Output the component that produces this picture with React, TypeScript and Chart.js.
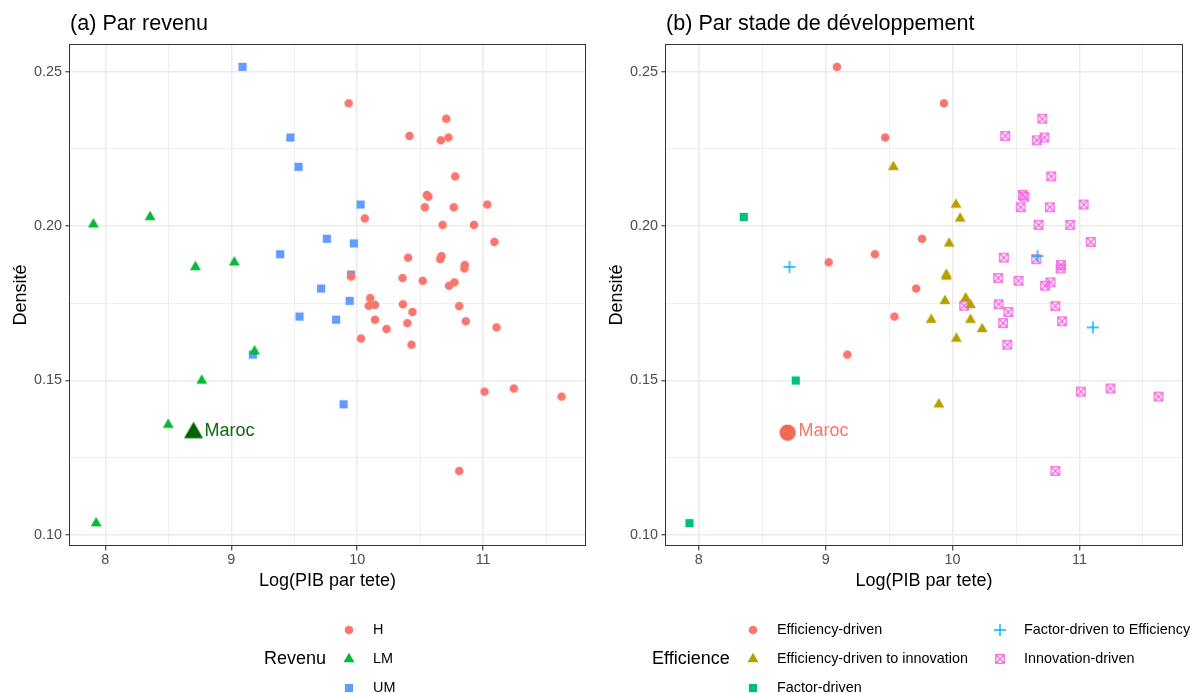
import React, { useEffect, useRef } from "react";
import { Chart, registerables } from "chart.js";

Chart.register(...registerables);

// ---------------- DATA ----------------
// Log(PIB par tete) of each country
const pibLog = [
  // UM
  9.089, 9.469, 9.534, 10.027, 9.759, 9.973, 9.388, 9.951, 9.713, 9.94, 9.542, 9.832, 9.171, 9.892,
  // LM
  7.905, 8.355, 8.715, 9.024, 9.184, 8.765, 8.499, 7.927,
  // H
  9.932, 10.707, 10.415, 10.664, 10.724, 10.778, 10.553, 10.566, 10.537, 10.767, 11.033, 10.06, 10.678,
  10.927, 11.089, 10.404, 10.669, 10.659, 10.854, 10.851, 9.951, 10.36, 10.52, 10.772, 10.729, 10.103,
  10.363, 10.092, 10.141, 10.81, 10.439, 10.141, 10.398, 10.862, 10.233, 11.106, 10.03, 10.431, 11.011,
  11.244, 11.623, 10.81,
];

// Densité of each country
const densite = [
  // UM
  0.2516, 0.2287, 0.2192, 0.207, 0.1959, 0.1944, 0.1909, 0.1843, 0.1798, 0.1758, 0.1707, 0.1697, 0.1584, 0.1423,
  // LM
  0.2006, 0.203, 0.1868, 0.1883, 0.1595, 0.15, 0.1357, 0.1038,
  // H
  0.2398, 0.2348, 0.2292, 0.2278, 0.2287, 0.2161, 0.2101, 0.2095, 0.2061, 0.2061, 0.207, 0.2025, 0.2004,
  0.2004, 0.1949, 0.1898, 0.1903, 0.1893, 0.1874, 0.1863, 0.1837, 0.1832, 0.1823, 0.1818, 0.1807, 0.1767,
  0.1747, 0.1742, 0.1745, 0.1741, 0.1722, 0.1697, 0.1686, 0.1692, 0.1667, 0.1672, 0.1636, 0.1616, 0.1464,
  0.1474, 0.1448, 0.1207,
];

// Revenu group of each country
const revenu = [
  "UM", "UM", "UM", "UM", "UM", "UM", "UM", "UM", "UM", "UM", "UM", "UM", "UM", "UM",
  "LM", "LM", "LM", "LM", "LM", "LM", "LM", "LM",
  "H", "H", "H", "H", "H", "H", "H", "H", "H", "H", "H", "H", "H", "H", "H", "H", "H", "H", "H", "H", "H",
  "H", "H", "H", "H", "H", "H", "H", "H", "H", "H", "H", "H", "H", "H", "H", "H", "H", "H", "H", "H", "H",
];

// Efficience stage code of each country (null = not classified)
const efficience = [
  "ED", "ED", "EI", "EI", "ED", "EI", "ED", "EI", "ED", "EI", "ED", "EI", "ED", "EI",
  null, "FD", "FE", "ED", null, "FD", null, "FD",
  "ED", "IN", "IN", "IN", "IN", "IN", "IN", "IN", "IN", "IN", "IN", "EI", "IN", "IN", "IN", "IN", "FE",
  "IN", "IN", "IN", "EI", "IN", "IN", "IN", "IN", "EI", "IN", "IN", "EI", "IN", "IN", "EI", "IN", "IN",
  "EI", "FE", "EI", "IN", "IN", "IN", "IN", "IN",
];

const revenuLevels = ["H", "LM", "UM"];
const revenuColors = ["#F8766D", "#00BA38", "#619CFF"];
const revenuShapes = ["circle", "triangle", "square"];

const efficienceCodes = ["ED", "EI", "FD", "FE", "IN"];
const efficienceLevels = [
  "Efficiency-driven",
  "Efficiency-driven to innovation",
  "Factor-driven",
  "Factor-driven to Efficiency",
  "Innovation-driven",
];
const efficienceColors = ["#F8766D", "#B79F00", "#00BF7D", "#00B0F6", "#F564E3"];
const efficienceShapes = ["circle", "triangle", "square", "plus", "squareCross"];

const marocLabel = "Maroc";
const marocPib = 8.7;
const marocDensite = 0.1331;

const xMajorTicks = [8, 9, 10, 11];
const xTickLabels = ["8", "9", "10", "11"];
const yMajorTicks = [0.1, 0.15, 0.2, 0.25];
const yTickLabels = ["0.10", "0.15", "0.20", "0.25"];

const panelTitles = ["(a) Par revenu", "(b) Par stade de développement"];
const xAxisTitle = "Log(PIB par tete)";
const yAxisTitle = "Densité";
const legendTitles = ["Revenu", "Efficience"];

// ---------------- STYLE ----------------
const FONT = '"Liberation Sans", Arial, Helvetica, sans-serif';
Chart.defaults.font.family = FONT;

function makeMarker(shape: string, color: string, big = false): HTMLCanvasElement {
  const c = document.createElement("canvas");
  const S = big ? 30 : 20;
  c.width = S;
  c.height = S;
  const g = c.getContext("2d")!;
  const cx = S / 2;
  const cy = S / 2;
  g.fillStyle = color;
  g.strokeStyle = color;
  if (shape === "circle") {
    const r = big ? 8.2 : 4.3;
    g.beginPath();
    g.arc(cx, cy, r, 0, Math.PI * 2);
    g.fill();
  } else if (shape === "triangle") {
    const r = big ? 11 : 6.3;
    g.beginPath();
    g.moveTo(cx, cy - r);
    g.lineTo(cx + r * 0.866, cy + r / 2);
    g.lineTo(cx - r * 0.866, cy + r / 2);
    g.closePath();
    g.fill();
  } else if (shape === "square") {
    const h = 4.1;
    g.fillRect(cx - h, cy - h, 2 * h, 2 * h);
  } else if (shape === "plus") {
    const h = 6;
    g.lineWidth = 1.4;
    g.beginPath();
    g.moveTo(cx - h, cy);
    g.lineTo(cx + h, cy);
    g.moveTo(cx, cy - h);
    g.lineTo(cx, cy + h);
    g.stroke();
  } else if (shape === "squareCross") {
    const h = 4.2;
    g.lineWidth = 1.3;
    g.strokeRect(cx - h, cy - h, 2 * h, 2 * h);
    g.beginPath();
    g.moveTo(cx - h, cy - h);
    g.lineTo(cx + h, cy + h);
    g.moveTo(cx + h, cy - h);
    g.lineTo(cx - h, cy + h);
    g.stroke();
  }
  return c;
}

function isIn(list: number[], v: number) {
  return list.some((t) => Math.abs(t - v) < 1e-9);
}

function withMinors(major: number[], min: number, max: number) {
  const step = major[1] - major[0];
  const all: number[] = [];
  for (let i = -1; i < major.length; i++) {
    const base = i < 0 ? major[0] - step : major[i];
    if (i >= 0) all.push(major[i]);
    all.push(base + step / 2);
  }
  return all.filter((v) => v >= min - 1e-12 && v <= max + 1e-12).sort((a, b) => a - b);
}

function expandRange(vals: number[]) {
  const lo = Math.min(...vals);
  const hi = Math.max(...vals);
  const pad = (hi - lo) * 0.05;
  return [lo - pad, hi + pad];
}

interface LegendItem {
  label: string;
  img: HTMLCanvasElement;
  col: number;
  row: number;
}

interface PanelSpec {
  key: string;
  title: string;
  legendTitle: string;
  legendTitleX: number;
  colMarkerX: number[];
  colLabelX: number[];
  items: LegendItem[];
  marocColor: string;
  rightPad: number;
}

const rowY = [630, 659, 688];

function decorPlugin(p: PanelSpec) {
  return {
    id: "decor" + p.key,
    afterDatasetsDraw(chart: any) {
      const ctx = chart.ctx as CanvasRenderingContext2D;
      const px = chart.scales.x.getPixelForValue(marocPib);
      const py = chart.scales.y.getPixelForValue(marocDensite);
      ctx.save();
      ctx.font = `18px ${FONT}`;
      ctx.fillStyle = p.marocColor;
      ctx.textAlign = "left";
      ctx.textBaseline = "middle";
      ctx.fillText(marocLabel, px + 11, py - 1.5);
      ctx.restore();
    },
    afterDraw(chart: any) {
      const ctx = chart.ctx as CanvasRenderingContext2D;
      const a = chart.chartArea;
      ctx.save();
      // panel border
      ctx.strokeStyle = "#333333";
      ctx.lineWidth = 1;
      ctx.strokeRect(
        Math.round(a.left) - 0.5,
        Math.round(a.top) + 0.5,
        Math.round(a.right - a.left) + 1,
        Math.round(a.bottom - a.top) - 1
      );
      // title
      ctx.fillStyle = "#000";
      ctx.font = `21.6px ${FONT}`;
      ctx.textAlign = "left";
      ctx.textBaseline = "alphabetic";
      ctx.fillText(p.title, a.left, 30);
      // x-axis title
      ctx.font = `18px ${FONT}`;
      ctx.textAlign = "center";
      ctx.fillText(xAxisTitle, (a.left + a.right) / 2, 585.5);
      // y-axis title
      ctx.save();
      ctx.translate(25.5, (a.top + a.bottom) / 2);
      ctx.rotate(-Math.PI / 2);
      ctx.textAlign = "center";
      ctx.textBaseline = "alphabetic";
      ctx.fillText(yAxisTitle, 0, 0);
      ctx.restore();
      // legend
      ctx.font = `18px ${FONT}`;
      ctx.textAlign = "left";
      ctx.textBaseline = "middle";
      ctx.fillText(p.legendTitle, p.legendTitleX, rowY[1]);
      ctx.font = `14.4px ${FONT}`;
      for (const it of p.items) {
        const mx = p.colMarkerX[it.col];
        const my = rowY[it.row];
        ctx.drawImage(it.img, mx - it.img.width / 2, my - it.img.height / 2);
        ctx.fillText(it.label, p.colLabelX[it.col], my);
      }
      ctx.restore();
    },
  };
}

function buildConfig(datasets: any[], xr: number[], yr: number[], spec: PanelSpec): any {
  const xTicks = withMinors(xMajorTicks, xr[0], xr[1]);
  const yTicks = withMinors(yMajorTicks, yr[0], yr[1]);
  const gridCommon = (major: number[]) => ({
    color: "#EBEBEB",
    lineWidth: (c: any) => (c.tick && isIn(major, c.tick.value) ? 1.5 : 0.8),
    tickColor: (c: any) => (c.tick && isIn(major, c.tick.value) ? "#333333" : "rgba(0,0,0,0)"),
    tickLength: 4.5,
    tickWidth: 1.1,
    drawTicks: true,
  });
  return {
    type: "scatter",
    data: { datasets },
    options: {
      animation: false,
      responsive: false,
      events: [],
      devicePixelRatio: 1,
      layout: { padding: { top: 44, left: 0, right: spec.rightPad, bottom: 107 } },
      plugins: { legend: { display: false }, tooltip: { enabled: false } },
      scales: {
        x: {
          type: "linear",
          min: xr[0],
          max: xr[1],
          afterBuildTicks: (s: any) => {
            s.ticks = xTicks.map((v) => ({ value: v }));
          },
          afterFit: (s: any) => {
            s.height = 40;
          },
          grid: gridCommon(xMajorTicks),
          border: { display: false },
          ticks: {
            autoSkip: false,
            maxRotation: 0,
            padding: 0.5,
            color: "#4D4D4D",
            font: { size: 14.4, family: FONT },
            callback: (v: number) => {
              const i = xMajorTicks.findIndex((t) => Math.abs(t - v) < 1e-9);
              return i >= 0 ? xTickLabels[i] : "";
            },
          },
        },
        y: {
          type: "linear",
          min: yr[0],
          max: yr[1],
          afterBuildTicks: (s: any) => {
            s.ticks = yTicks.map((v) => ({ value: v }));
          },
          afterFit: (s: any) => {
            s.width = 70;
          },
          grid: gridCommon(yMajorTicks),
          border: { display: false },
          ticks: {
            autoSkip: false,
            padding: 3.6,
            color: "#4D4D4D",
            font: { size: 14.4, family: FONT },
            callback: (v: number) => {
              const i = yMajorTicks.findIndex((t) => Math.abs(t - v) < 1e-9);
              return i >= 0 ? yTickLabels[i] : "";
            },
          },
        },
      },
    },
    plugins: [decorPlugin(spec)],
  };
}

function pointsWhere(pred: (i: number) => boolean) {
  const out: { x: number; y: number }[] = [];
  for (let i = 0; i < pibLog.length; i++) if (pred(i)) out.push({ x: pibLog[i], y: densite[i] });
  return out;
}

export default function App() {
  const leftRef = useRef<HTMLCanvasElement>(null);
  const rightRef = useRef<HTMLCanvasElement>(null);

  useEffect(() => {
    // ----- Panel (a) -----
    const revImgs = revenuLevels.map((_, i) => makeMarker(revenuShapes[i], revenuColors[i]));
    const dsA: any[] = revenuLevels.map((lvl, i) => ({
      label: lvl,
      data: pointsWhere((j) => revenu[j] === lvl),
      pointStyle: revImgs[i],
      pointRadius: 5,
    }));
    dsA.push({
      label: marocLabel,
      data: [{ x: marocPib, y: marocDensite }],
      pointStyle: makeMarker("triangle", "#006400", true),
      pointRadius: 10,
    });
    const xA = expandRange([...pibLog, marocPib]);
    const yA = expandRange([...densite, marocDensite]);
    const specA: PanelSpec = {
      key: "a",
      title: panelTitles[0],
      legendTitle: legendTitles[0],
      legendTitleX: 264,
      colMarkerX: [349],
      colLabelX: [373],
      items: revenuLevels.map((lvl, i) => ({ label: lvl, img: revImgs[i], col: 0, row: i })),
      marocColor: "#0B6B0B",
      rightPad: 7,
    };

    // ----- Panel (b) -----
    const effImgs = efficienceLevels.map((_, i) => makeMarker(efficienceShapes[i], efficienceColors[i]));
    const dsB: any[] = efficienceLevels.map((lvl, i) => ({
      label: lvl,
      data: pointsWhere((j) => efficience[j] === efficienceCodes[i]),
      pointStyle: effImgs[i],
      pointRadius: 5,
    }));
    dsB.push({
      label: marocLabel,
      data: [{ x: marocPib, y: marocDensite }],
      pointStyle: makeMarker("circle", "#EE6A55", true),
      pointRadius: 9,
    });
    const classified = pibLog.map((_, i) => i).filter((i) => efficience[i] !== null);
    const xB = expandRange([...classified.map((i) => pibLog[i]), marocPib]);
    const yB = expandRange([...classified.map((i) => densite[i]), marocDensite]);
    const specB: PanelSpec = {
      key: "b",
      title: panelTitles[1],
      legendTitle: legendTitles[1],
      legendTitleX: 56,
      colMarkerX: [157, 404],
      colLabelX: [181, 428],
      items: efficienceLevels.map((lvl, i) => ({
        label: lvl,
        img: effImgs[i],
        col: i < 3 ? 0 : 1,
        row: i < 3 ? i : i - 3,
      })),
      marocColor: "#F8766D",
      rightPad: 5,
    };

    const c1 = new Chart(leftRef.current!, buildConfig(dsA, xA, yA, specA));
    const c2 = new Chart(rightRef.current!, buildConfig(dsB, xB, yB, specB));
    return () => {
      c1.destroy();
      c2.destroy();
    };
  }, []);

  return (
    <div style={{ position: "absolute", left: 0, top: 0, width: 1192, height: 693, background: "#fff" }}>
      <canvas
        ref={leftRef}
        width={596}
        height={693}
        style={{ position: "absolute", left: 0, top: 0, width: 596, height: 693 }}
      />
      <canvas
        ref={rightRef}
        width={596}
        height={693}
        style={{ position: "absolute", left: 596, top: 0, width: 596, height: 693 }}
      />
    </div>
  );
}
